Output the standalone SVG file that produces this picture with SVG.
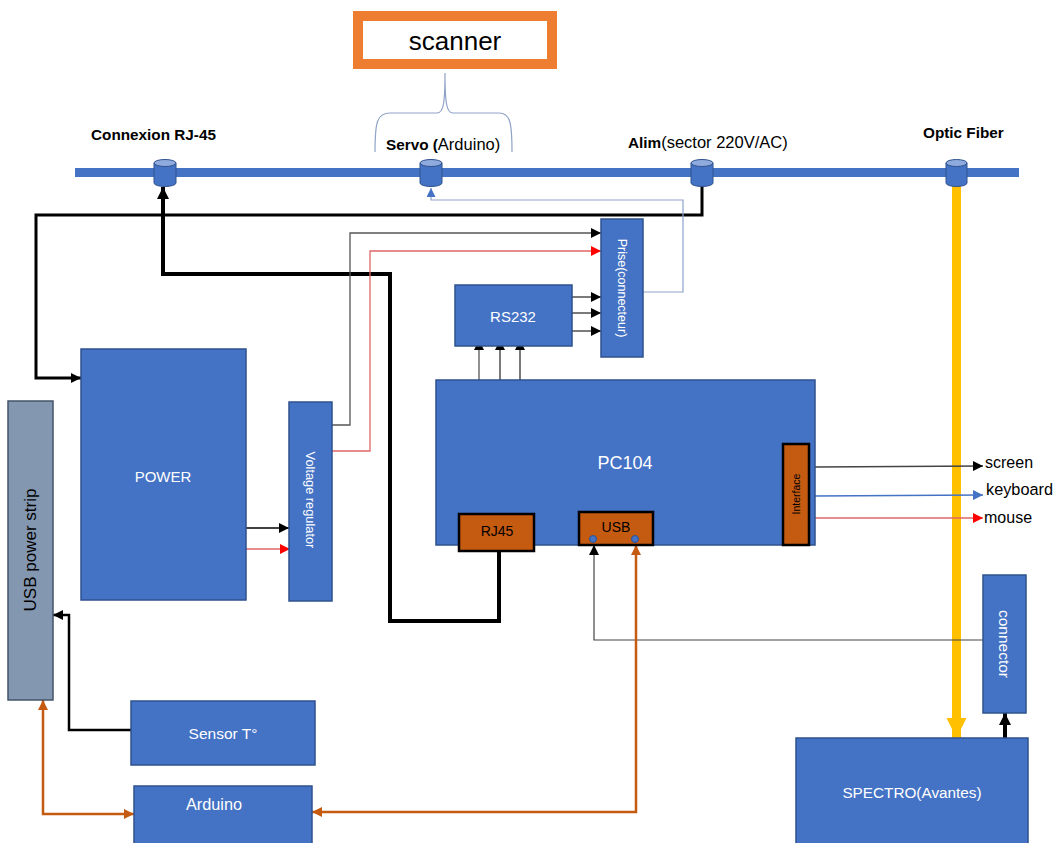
<svg xmlns="http://www.w3.org/2000/svg" width="1055" height="843" viewBox="0 0 1055 843">
<style>
.box{fill:#4472C4;stroke:#2F528F;stroke-width:1.5}
.org{fill:#C55A11;stroke:#000;stroke-width:2.5}
.wt{fill:#fff;font-family:"Liberation Sans",Arial,sans-serif;text-anchor:middle;dominant-baseline:central}
.bt{fill:#000;font-family:"Liberation Sans",Arial,sans-serif}
.cyl{fill:#4472C4;stroke:#2F528F;stroke-width:1}
.ln{fill:none}
</style>
<defs>
<marker id="ab" viewBox="0 0 10 10" refX="10" refY="5" markerWidth="11" markerHeight="10" markerUnits="userSpaceOnUse" orient="auto"><path d="M0,0 L10,5 L0,10 z" fill="#000"/></marker>
<marker id="abT" viewBox="0 0 10 10" refX="10" refY="5" markerWidth="12" markerHeight="12" markerUnits="userSpaceOnUse" orient="auto"><path d="M0,0 L10,5 L0,10 z" fill="#000"/></marker>
<marker id="ar" viewBox="0 0 10 10" refX="10" refY="5" markerWidth="11" markerHeight="10" markerUnits="userSpaceOnUse" orient="auto"><path d="M0,0 L10,5 L0,10 z" fill="#FF0000"/></marker>
<marker id="abl" viewBox="0 0 10 10" refX="10" refY="5" markerWidth="11" markerHeight="10" markerUnits="userSpaceOnUse" orient="auto"><path d="M0,0 L10,5 L0,10 z" fill="#4472C4"/></marker>
<marker id="alb" viewBox="0 0 10 10" refX="10" refY="5" markerWidth="9" markerHeight="9" markerUnits="userSpaceOnUse" orient="auto"><path d="M0,0 L10,5 L0,10 z" fill="#4472C4"/></marker>
<marker id="ao" viewBox="0 0 10 10" refX="10" refY="5" markerWidth="11" markerHeight="10" markerUnits="userSpaceOnUse" orient="auto-start-reverse"><path d="M0,0 L10,5 L0,10 z" fill="#C55A11"/></marker>
<marker id="ay" viewBox="0 0 10 10" refX="10" refY="5" markerWidth="20" markerHeight="24" markerUnits="userSpaceOnUse" orient="auto"><path d="M0,0 L10,5 L0,10 z" fill="#FFC000"/></marker>
</defs>

<!-- bus -->
<g id="bus">
<line x1="75" y1="172.5" x2="1019" y2="172.5" stroke="#4472C4" stroke-width="9"/>
</g>

<!-- connectors -->
<g id="connectors" class="ln">
<line x1="956.5" y1="186" x2="956.5" y2="738" stroke="#FFC000" stroke-width="9" marker-end="url(#ay)"/>
<polyline points="702,186 702,215 36,215 36,378 81,378" stroke="#000" stroke-width="3" marker-end="url(#ab)"/>
<polyline points="499,550 499,621 390,621 390,274 163,274 163,187" stroke="#000" stroke-width="4" marker-end="url(#abT)"/>
<polyline points="643,292 683,292 683,200 431,200 431,188" stroke="#8FA3C8" stroke-width="1.2" marker-end="url(#alb)"/>
<polyline points="332,425 350,425 350,233 601,233" stroke="#555" stroke-width="1.3" marker-end="url(#ab)"/>
<polyline points="332,451 370,451 370,251 601,251" stroke="#E06666" stroke-width="1.3" marker-end="url(#ar)"/>
<line x1="246" y1="528" x2="289" y2="528" stroke="#000" stroke-width="1.3" marker-end="url(#ab)"/>
<line x1="246" y1="549" x2="290" y2="549" stroke="#E06666" stroke-width="1.3" marker-end="url(#ar)"/>
<line x1="572" y1="297" x2="601" y2="297" stroke="#333" stroke-width="1.3" marker-end="url(#ab)"/>
<line x1="572" y1="313" x2="601" y2="313" stroke="#333" stroke-width="1.3" marker-end="url(#ab)"/>
<line x1="572" y1="331" x2="601" y2="331" stroke="#333" stroke-width="1.3" marker-end="url(#ab)"/>
<line x1="479" y1="380" x2="479" y2="340" stroke="#555" stroke-width="1.3" marker-end="url(#ab)"/>
<line x1="500" y1="380" x2="500" y2="340" stroke="#333" stroke-width="1.3" marker-end="url(#ab)"/>
<line x1="520" y1="380" x2="520" y2="340" stroke="#333" stroke-width="1.3" marker-end="url(#ab)"/>
<line x1="815" y1="467" x2="983" y2="466" stroke="#444" stroke-width="1.3" marker-end="url(#ab)"/>
<line x1="815" y1="496" x2="983" y2="495" stroke="#4472C4" stroke-width="1.3" marker-end="url(#abl)"/>
<line x1="815" y1="518" x2="983" y2="518" stroke="#E06666" stroke-width="1.3" marker-end="url(#ar)"/>
<polyline points="983,640 594,640 594,545" stroke="#444" stroke-width="1.2" marker-end="url(#ab)"/>
<line x1="1005" y1="738" x2="1005" y2="713" stroke="#000" stroke-width="4" marker-end="url(#abT)"/>
<polyline points="312,812 636,812 636,545" stroke="#C55A11" stroke-width="2.5" marker-start="url(#ao)" marker-end="url(#ao)"/>
<polyline points="43,700 43,814 134,814" stroke="#C55A11" stroke-width="2.5" marker-start="url(#ao)" marker-end="url(#ao)"/>
<polyline points="131,730 69,730 69,615 53,615" stroke="#000" stroke-width="2.5" marker-end="url(#ab)"/>
<path d="M375,152 C375,122 377,113 390,113 L437,113 C443,113 445,105 445,73 C445,105 447,113 453,113 L499,113 C510,113 512,122 512,152" stroke="#8FA3C8" stroke-width="1.2"/>
</g>

<!-- cylinders -->
<g id="cyl-rj45"><path class="cyl" d="M154,163 L154,183 A11,3.5 0 0 0 176,183 L176,163 Z"/><ellipse class="cyl" cx="165" cy="163" rx="11" ry="3.5" style="fill:#8FAADC"/></g>
<g id="cyl-servo"><path class="cyl" d="M420,163 L420,183 A11,3.5 0 0 0 442,183 L442,163 Z"/><ellipse class="cyl" cx="431" cy="163" rx="11" ry="3.5" style="fill:#8FAADC"/></g>
<g id="cyl-alim"><path class="cyl" d="M691,163 L691,183 A11,3.5 0 0 0 713,183 L713,163 Z"/><ellipse class="cyl" cx="702" cy="163" rx="11" ry="3.5" style="fill:#8FAADC"/></g>
<g id="cyl-optic"><path class="cyl" d="M946,163 L946,183 A10.5,3.5 0 0 0 967,183 L967,163 Z"/><ellipse class="cyl" cx="956.5" cy="163" rx="10.5" ry="3.5" style="fill:#8FAADC"/></g>

<!-- bus labels -->
<g id="labels">
<text class="bt" x="91" y="140" font-size="15.3" font-weight="bold">Connexion RJ-45</text>
<text class="bt" x="386" y="150" font-size="15.3"><tspan font-weight="bold">Servo (</tspan><tspan font-size="16.5">Arduino)</tspan></text>
<text class="bt" x="628" y="148" font-size="16.5"><tspan font-weight="bold" font-size="15.3">Alim</tspan>(sector 220V/AC)</text>
<text class="bt" x="923" y="138" font-size="15.3" font-weight="bold">Optic Fiber</text>
</g>

<g id="scanner">
<rect x="358" y="16" width="194" height="48" fill="#fff" stroke="#ED7D31" stroke-width="10"/>
<text x="455" y="41" font-size="26" fill="#000" font-family="Liberation Sans,Arial,sans-serif" text-anchor="middle" dominant-baseline="central">scanner</text>
</g>

<g id="power"><rect class="box" x="81" y="349" width="165" height="251"/><text class="wt" x="163" y="476" font-size="15">POWER</text></g>

<g id="usb-strip"><rect x="8" y="401" width="45" height="299" fill="#8497B0" stroke="#44546A" stroke-width="1.5"/><text x="30" y="550" font-size="17" fill="#000" font-family="Liberation Sans,Arial,sans-serif" text-anchor="middle" dominant-baseline="central" transform="rotate(-90 30 550)">USB power strip</text></g>

<g id="voltage-regulator"><rect class="box" x="289" y="402" width="43" height="199"/><text class="wt" x="310.5" y="500" font-size="12.8" transform="rotate(90 310.5 500)">Voltage regulator</text></g>

<g id="prise"><rect class="box" x="601" y="219" width="42" height="138"/><text class="wt" x="622" y="288" font-size="12.5" transform="rotate(90 622 288)">Prise(connecteur)</text></g>

<g id="rs232"><rect class="box" x="455" y="285" width="117" height="61"/><text class="wt" x="513" y="316" font-size="15">RS232</text></g>

<g id="pc104"><rect class="box" x="436" y="380" width="379" height="165"/><text class="wt" x="625" y="463" font-size="18">PC104</text></g>

<g id="interface"><rect class="org" x="783" y="444" width="26" height="101"/><text x="796" y="494" font-size="10.5" fill="#000" font-family="Liberation Sans,Arial,sans-serif" text-anchor="middle" dominant-baseline="central" transform="rotate(-90 796 494)">Interface</text></g>

<g id="rj45"><rect class="org" x="459" y="514" width="75" height="37"/><text x="497" y="531" font-size="14" fill="#000" font-family="Liberation Sans,Arial,sans-serif" text-anchor="middle" dominant-baseline="central">RJ45</text></g>

<g id="usb"><rect class="org" x="579" y="512" width="74" height="33"/><text x="616" y="527" font-size="14" fill="#000" font-family="Liberation Sans,Arial,sans-serif" text-anchor="middle" dominant-baseline="central">USB</text><circle cx="593" cy="539" r="3.5" fill="#4472C4" stroke="#2F528F"/><circle cx="635" cy="539" r="3.5" fill="#4472C4" stroke="#2F528F"/></g>

<g id="outputs">
<text class="bt" x="985" y="468" font-size="16">screen</text>
<text class="bt" x="986" y="495" font-size="16.3">keyboard</text>
<text class="bt" x="984" y="523" font-size="16">mouse</text>
</g>

<g id="connector"><rect class="box" x="983" y="575" width="43" height="138"/><text class="wt" x="1004.5" y="644" font-size="15.5" transform="rotate(90 1004.5 644)">connector</text></g>

<g id="spectro"><rect class="box" x="796" y="738" width="232" height="110"/><text class="wt" x="912" y="792" font-size="15.3">SPECTRO(Avantes)</text></g>

<g id="sensor"><rect class="box" x="131" y="701" width="184" height="64"/><text class="wt" x="223" y="733" font-size="15.5">Sensor T°</text></g>

<g id="arduino"><rect class="box" x="134" y="786" width="178" height="62"/><text class="wt" x="214" y="804" font-size="16.3">Arduino</text></g>
</svg>
